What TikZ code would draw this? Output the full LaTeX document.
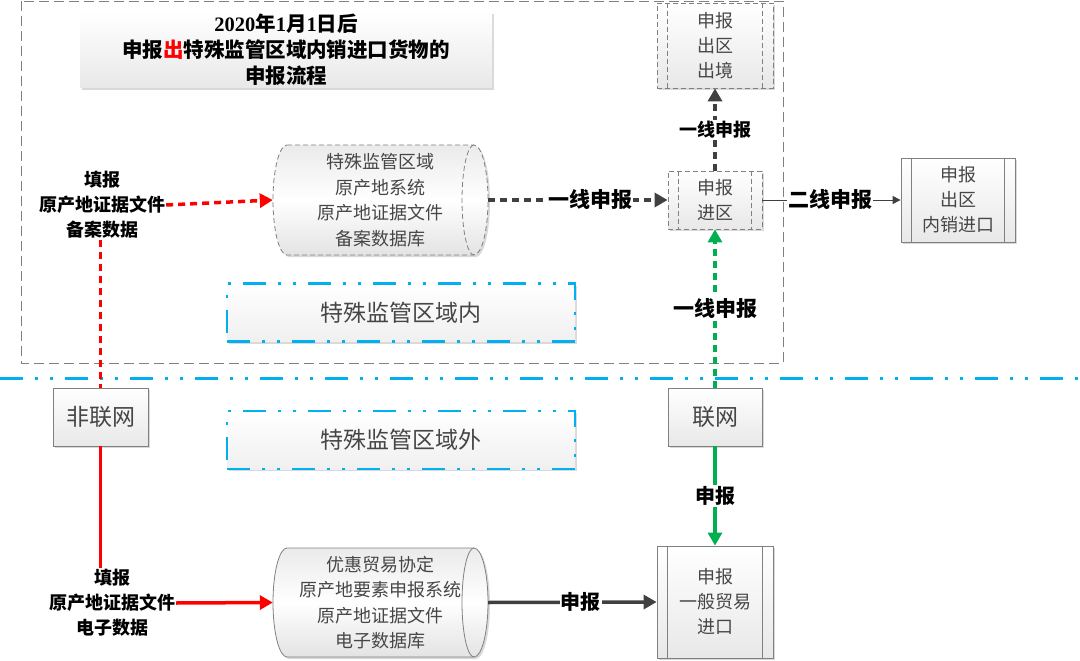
\documentclass[tikz,border=0pt]{standalone}
\usepackage{fontspec}
\setmainfont{Noto Sans CJK SC}
\newfontfamily\serifnum{Liberation Serif}
\usetikzlibrary{shapes.geometric,shadows,arrows.meta}
\definecolor{cyanb}{RGB}{0,176,240}
\definecolor{redc}{RGB}{255,0,0}
\definecolor{greenc}{RGB}{0,176,80}
\definecolor{darkc}{RGB}{64,64,64}
\definecolor{txtc}{RGB}{70,70,70}
\definecolor{edgec}{RGB}{128,128,128}
\tikzset{
  shad/.style={drop shadow={shadow xshift=2pt,shadow yshift=-2pt,opacity=0.3,fill=gray}},
  proc/.style={draw=edgec, line width=0.8pt, top color=white, bottom color=gray!18, shad,
    text=txtc, font=\fontsize{18}{25}\selectfont, align=center, inner sep=0pt},
  dproc/.style={proc, dash pattern=on 5pt off 3pt},
  dbtext/.style={text=txtc, font=\fontsize{18}{25.5}\selectfont, align=center,
    inner sep=0pt, minimum width=215pt, minimum height=110pt},
  dbshape/.style={draw=edgec, line width=0.8pt, top color=gray!16, bottom color=gray!22, middle color=white, shad},
  zone/.style={draw=cyanb, line width=2.5pt, dash pattern=on 23pt off 12pt on 3pt off 12pt on 3pt off 12pt,
    top color=white, bottom color=gray!12, shad, text=txtc, font=\fontsize{23}{28}\selectfont,
    minimum width=348pt, minimum height=58pt, inner sep=0pt},
  lab/.style={font=\bfseries\fontsize{18}{25}\selectfont, align=center, text=black, inner sep=1pt},
  onl/.style={fill=white, inner sep=1pt, text=black},
  redd/.style={draw=redc, line width=3.5pt, dash pattern=on 7pt off 5pt},
  reds/.style={draw=redc, line width=3.5pt},
  darkd/.style={draw=darkc, line width=3.5pt, dash pattern=on 7pt off 5pt},
  greend/.style={draw=greenc, line width=3.5pt, dash pattern=on 7pt off 5pt},
  bigtip/.style={-{Triangle[length=13pt,width=14pt]}},
  smalltip/.style={-{Triangle[length=8pt,width=8pt]}},
}
\begin{document}
\begin{tikzpicture}[x=1pt,y=-1pt]
\useasboundingbox (0,0) rectangle (1080,661);
% outer dashed region
\draw[draw=edgec, line width=0.8pt, dash pattern=on 10pt off 5pt] (21,1) rectangle (783,363);
% blue boundary line
\draw[draw=cyanb, line width=3pt, dash pattern=on 23pt off 12pt on 3pt off 12pt on 3pt off 12pt] (0,378) -- (1080,378);

% title
\node[proc, draw=none, minimum width=412pt, minimum height=76pt, text=black,
  font=\bfseries\fontsize{20.5}{26}\selectfont] (title) at (286,50)
  {{\serifnum\bfseries 2020}年{\serifnum\bfseries 1}月{\serifnum\bfseries 1}日后\\
   申报\textcolor{redc}{出}特殊监管区域内销进口货物的\\申报流程};

% boxes
\node[dproc, minimum width=116pt, minimum height=85pt] (chujing) at (715,45.5) {申报\\出区\\出境};
\draw[edgec, line width=0.8pt, dash pattern=on 5pt off 3pt] ([xshift=11pt]chujing.north west) -- ([xshift=11pt]chujing.south west)
  ([xshift=-11pt]chujing.north east) -- ([xshift=-11pt]chujing.south east);

\node[dproc, minimum width=94pt, minimum height=58pt] (jinqu) at (715,200) {申报\\进区};
\draw[edgec, line width=0.8pt, dash pattern=on 5pt off 3pt] ([xshift=11pt]jinqu.north west) -- ([xshift=11pt]jinqu.south west)
  ([xshift=-11pt]jinqu.north east) -- ([xshift=-11pt]jinqu.south east);

\node[proc, minimum width=114pt, minimum height=84pt] (neixiao) at (958,200) {申报\\出区\\内销进口};
\draw[edgec, line width=0.8pt] ([xshift=11pt]neixiao.north west) -- ([xshift=11pt]neixiao.south west)
  ([xshift=-11pt]neixiao.north east) -- ([xshift=-11pt]neixiao.south east);

\node[proc, minimum width=116pt, minimum height=112pt] (yiban) at (715,602) {申报\\一般贸易\\进口};
\draw[edgec, line width=0.8pt] ([xshift=11pt]yiban.north west) -- ([xshift=11pt]yiban.south west)
  ([xshift=-11pt]yiban.north east) -- ([xshift=-11pt]yiban.south east);

\node[proc, minimum width=95pt, minimum height=58pt, font=\fontsize{23}{28}\selectfont] (feilian) at (100.5,417) {非联网};
\node[proc, minimum width=94pt, minimum height=58pt, font=\fontsize{23}{28}\selectfont] (lianwang) at (715,417) {联网};

% databases (horizontal cylinders)
\path[dbshape, dash pattern=on 5pt off 3pt] (287,145) -- (474,145)
  arc[start angle=-90, end angle=90, x radius=14, y radius=55] -- (287,255)
  arc[start angle=90, end angle=270, x radius=14, y radius=55] -- cycle;
\draw[edgec, line width=0.8pt, dash pattern=on 5pt off 3pt] (474,145) arc[start angle=270, end angle=90, x radius=12, y radius=55];
\node[dbtext] (cyl1) at (380.5,200) {特殊监管区域\\原产地系统\\原产地证据文件\\备案数据库};

\path[dbshape] (287,548) -- (474,548)
  arc[start angle=-90, end angle=90, x radius=14, y radius=54.5] -- (287,657)
  arc[start angle=90, end angle=270, x radius=14, y radius=54.5] -- cycle;
\draw[edgec, line width=0.8pt] (474,548) arc[start angle=270, end angle=90, x radius=12, y radius=54.5];
\node[dbtext] (cyl2) at (380.5,602.5) {优惠贸易协定\\原产地要素申报系统\\原产地证据文件\\电子数据库};

% zones
\node[zone] (inzone) at (401,312.5) {特殊监管区域内};
\node[zone] (outzone) at (401,440) {特殊监管区域外};

% side labels
\node[lab] (fill1) at (102,205) {填报\\原产地证据文件\\备案数据};
\node[lab] (fill2) at (112,603) {填报\\原产地证据文件\\电子数据};

% connectors
\draw[redd, bigtip] (fill1.east) -- (cyl1.west);
\draw[redd] (fill1.south -| feilian.north) -- (feilian.north);
\draw[reds] (feilian.south) -- (feilian.south |- fill2.north);
\draw[reds, bigtip] (fill2.east) -- (cyl2.west);

\draw[darkd, bigtip] (cyl1.east) -- node[onl, font=\bfseries\fontsize{21}{25}\selectfont, pos=0.57] {一线申报} (jinqu.west);
\draw[darkd, bigtip] (jinqu.north) -- node[onl, font=\bfseries\fontsize{18}{25}\selectfont, pos=0.5] {一线申报} (chujing.south);
\draw[darkc, line width=1pt, smalltip] (jinqu.east) -- node[onl, font=\bfseries\fontsize{21}{25}\selectfont, pos=0.49] {二线申报} (neixiao.west);

\draw[greend, bigtip] (lianwang.north) -- node[onl, font=\bfseries\fontsize{21}{25}\selectfont, pos=0.5] {一线申报} (jinqu.south);
\draw[draw=greenc, line width=3.5pt, bigtip] (lianwang.south) -- node[onl, font=\bfseries\fontsize{20}{25}\selectfont] {申报} (yiban.north);
\draw[draw=darkc, line width=3.5pt, bigtip] (cyl2.east) -- node[onl, font=\bfseries\fontsize{20}{25}\selectfont, pos=0.55] {申报} (yiban.west);
\end{tikzpicture}
\end{document}
